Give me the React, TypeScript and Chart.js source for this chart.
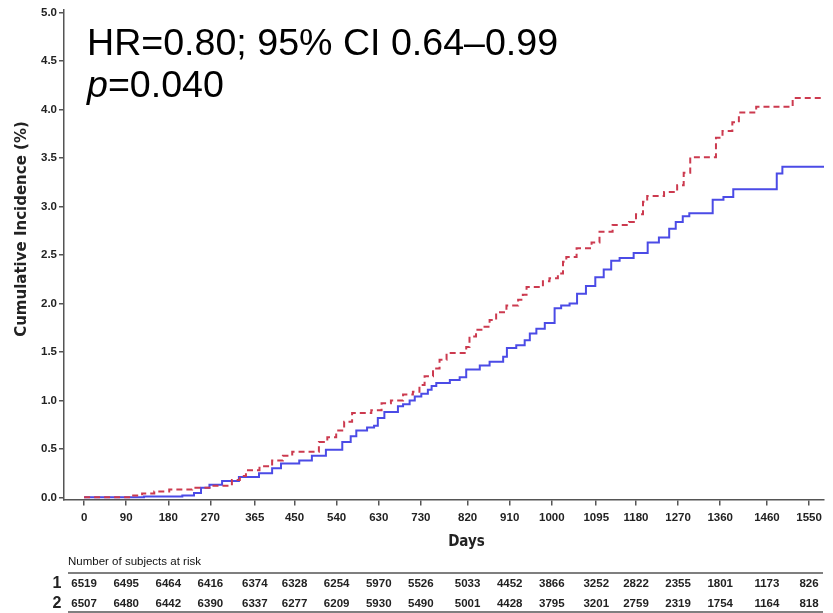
import React, { useEffect, useRef } from "react";
import { Chart, registerables } from "chart.js";

Chart.register(...registerables);

// ---- Data ----
const xTickValues = [0, 90, 180, 270, 365, 450, 540, 630, 720, 820, 910, 1000, 1095, 1180, 1270, 1360, 1460, 1550];
const xTickLabels = ["0", "90", "180", "270", "365", "450", "540", "630", "730", "820", "910", "1000", "1095", "1180", "1270", "1360", "1460", "1550"];
const yTickValues = [0, 0.5, 1.0, 1.5, 2.0, 2.5, 3.0, 3.5, 4.0, 4.5, 5.0];

// Group 1 (red dashed)
const group1Days = [0, 100, 124, 150, 182, 231, 274, 316, 333, 346, 375, 402, 425, 445, 502, 520, 539, 556, 573, 614, 636, 656, 682, 703, 717, 728, 746, 760, 775, 817, 824, 838, 853, 867, 881, 903, 928, 938, 946, 981, 995, 1013, 1024, 1031, 1053, 1085, 1102, 1130, 1165, 1180, 1195, 1204, 1240, 1268, 1282, 1296, 1351, 1365, 1386, 1400, 1437, 1515, 1582];
const group1Values = [0, 0.02, 0.04, 0.06, 0.08, 0.10, 0.12, 0.18, 0.22, 0.28, 0.32, 0.38, 0.43, 0.47, 0.57, 0.62, 0.69, 0.78, 0.87, 0.90, 0.97, 1.00, 1.06, 1.09, 1.16, 1.25, 1.33, 1.42, 1.49, 1.55, 1.66, 1.73, 1.76, 1.83, 1.91, 1.98, 2.04, 2.09, 2.17, 2.23, 2.26, 2.31, 2.43, 2.48, 2.57, 2.63, 2.74, 2.81, 2.84, 2.92, 3.05, 3.11, 3.15, 3.22, 3.35, 3.51, 3.71, 3.78, 3.87, 3.97, 4.03, 4.12, 4.12];

// Group 2 (blue solid)
const group2Days = [0, 128, 210, 235, 250, 268, 295, 331, 374, 402, 421, 460, 487, 517, 552, 570, 582, 605, 620, 628, 642, 671, 682, 696, 707, 721, 735, 743, 753, 782, 803, 817, 846, 867, 896, 904, 924, 942, 953, 967, 985, 1006, 1020, 1038, 1054, 1073, 1093, 1111, 1127, 1145, 1175, 1205, 1229, 1251, 1265, 1280, 1294, 1344, 1367, 1388, 1481, 1493, 1582];
const group2Values = [0, 0.01, 0.02, 0.045, 0.10, 0.13, 0.17, 0.21, 0.25, 0.30, 0.35, 0.38, 0.43, 0.49, 0.57, 0.63, 0.69, 0.72, 0.74, 0.82, 0.88, 0.94, 0.96, 1.00, 1.04, 1.07, 1.11, 1.15, 1.18, 1.21, 1.24, 1.32, 1.36, 1.40, 1.45, 1.54, 1.57, 1.62, 1.69, 1.74, 1.80, 1.95, 1.98, 2.00, 2.10, 2.18, 2.27, 2.35, 2.44, 2.47, 2.52, 2.63, 2.68, 2.77, 2.84, 2.90, 2.93, 3.07, 3.10, 3.18, 3.34, 3.41, 3.41];

const atRisk1 = [6519, 6495, 6464, 6416, 6374, 6328, 6254, 5970, 5526, 5033, 4452, 3866, 3252, 2822, 2355, 1801, 1173, 826];
const atRisk2 = [6507, 6480, 6442, 6390, 6337, 6277, 6209, 5930, 5490, 5001, 4428, 3795, 3201, 2759, 2319, 1754, 1164, 818];

const annotationLine1 = "HR=0.80; 95% CI 0.64\u20130.99";
const annotationP = "p";
const annotationLine2 = "=0.040";
const yTitle = "Cumulative Incidence (%)";
const xTitle = "Days";
const tableTitle = "Number of subjects at risk";

const SANS = "'Liberation Sans', Arial, sans-serif";
const AXIS_COLOR = "#555555";

const overlayPlugin = {
  id: "overlay",
  afterDraw(chart: any) {
    const ctx = chart.ctx;
    const xs = chart.scales.x;
    ctx.save();
    // annotation
    ctx.fillStyle = "#000";
    ctx.textAlign = "left";
    ctx.textBaseline = "alphabetic";
    ctx.font = `37.6px ${SANS}`;
    ctx.fillText(annotationLine1, 87, 55);
    ctx.font = `italic 37.6px ${SANS}`;
    ctx.fillText(annotationP, 87, 97);
    const pw = ctx.measureText(annotationP).width;
    ctx.font = `37.6px ${SANS}`;
    ctx.fillText(annotationLine2, 87 + pw, 97);

    // y title
    ctx.save();
    ctx.translate(22.5, 229);
    ctx.rotate(-Math.PI / 2);
    ctx.font = "bold 15px 'DejaVu Sans', sans-serif";
    ctx.fillStyle = "#222";
    ctx.textAlign = "center";
    ctx.textBaseline = "middle";
    ctx.fillText(yTitle, 0, 0);
    ctx.restore();

    // x title
    ctx.font = `bold 15px 'DejaVu Sans Condensed', ${SANS}`;
    ctx.fillStyle = "#222";
    ctx.textAlign = "center";
    ctx.textBaseline = "middle";
    ctx.fillText(xTitle, 466.5, 542);

    // at-risk table
    ctx.font = `11.5px ${SANS}`;
    ctx.fillStyle = "#111";
    ctx.textAlign = "left";
    ctx.fillText(tableTitle, 68, 562);
    ctx.strokeStyle = AXIS_COLOR;
    ctx.lineWidth = 1.5;
    ctx.beginPath();
    ctx.moveTo(68, 573);
    ctx.lineTo(823, 573);
    ctx.moveTo(68, 612);
    ctx.lineTo(823, 612);
    ctx.stroke();

    ctx.font = `bold 16px ${SANS}`;
    ctx.textAlign = "center";
    ctx.fillStyle = "#222";
    ctx.fillText("1", 57, 584);
    ctx.fillText("2", 57, 604);

    ctx.font = `bold 11.5px ${SANS}`;
    xTickValues.forEach((v, i) => {
      const px = xs.getPixelForValue(v);
      ctx.fillText(String(atRisk1[i]), px, 583.5);
      ctx.fillText(String(atRisk2[i]), px, 603.5);
    });
    ctx.restore();
  },
};

export default function App() {
  const ref = useRef<HTMLCanvasElement | null>(null);
  useEffect(() => {
    if (!ref.current) return;
    const chart = new Chart(ref.current, {
      type: "line",
      data: {
        datasets: [
          {
            label: "1",
            data: group1Days.map((d, i) => ({ x: d, y: group1Values[i] })),
            borderColor: "#cc3a4f",
            borderWidth: 2,
            borderDash: [6, 4],
            stepped: "before",
            pointRadius: 0,
            fill: false,
          },
          {
            label: "2",
            data: group2Days.map((d, i) => ({ x: d, y: group2Values[i] })),
            borderColor: "#4b4be6",
            borderWidth: 2,
            stepped: "before",
            pointRadius: 0,
            fill: false,
          },
        ],
      },
      options: {
        responsive: false,
        animation: false,
        layout: { padding: { top: 10, right: 9, left: 0, bottom: 0 } },
        plugins: { legend: { display: false }, tooltip: { enabled: false } },
        scales: {
          x: {
            type: "linear",
            min: -43,
            max: 1582,
            afterBuildTicks: (s: any) => {
              s.ticks = xTickValues.map((v) => ({ value: v }));
            },
            afterFit: (s: any) => {
              s.height = 113.5;
            },
            ticks: {
              autoSkip: false,
              maxRotation: 0,
              padding: 5,
              color: "#222",
              font: { family: SANS, size: 11.5, weight: "bold" },
              callback: (_v: any, i: number) => xTickLabels[i],
            },
            grid: { drawOnChartArea: false, tickLength: 6, color: AXIS_COLOR, lineWidth: 1.5 },
            border: { color: AXIS_COLOR, width: 1.5 },
          },
          y: {
            type: "linear",
            min: -0.022,
            max: 5.028,
            afterBuildTicks: (s: any) => {
              s.ticks = yTickValues.map((v) => ({ value: v }));
            },
            afterFit: (s: any) => {
              s.width = 64;
            },
            ticks: {
              padding: 2,
              color: "#222",
              font: { family: SANS, size: 11.5, weight: "bold" },
              callback: (v: any) => Number(v).toFixed(1),
            },
            grid: { drawOnChartArea: false, tickLength: 5, color: AXIS_COLOR, lineWidth: 1.5 },
            border: { color: AXIS_COLOR, width: 1.5 },
          },
        },
      },
      plugins: [overlayPlugin],
    });
    return () => chart.destroy();
  }, []);
  return (
    <div style={{ position: "fixed", left: 0, top: 0, width: 833, height: 613, background: "#fff" }}>
      <canvas ref={ref} width={833} height={613} style={{ display: "block" }} />
    </div>
  );
}
